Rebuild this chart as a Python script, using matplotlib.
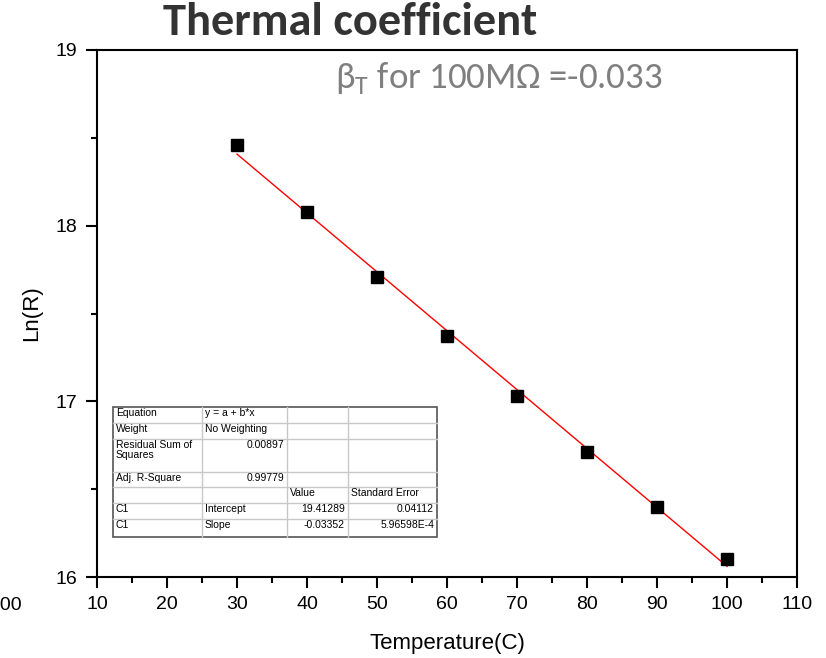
import numpy as np
import matplotlib.pyplot as plt
from matplotlib.ticker import MultipleLocator
from matplotlib.patches import Rectangle

# data
temperatura = [30, 40, 50, 60, 70, 80, 90, 100]
ln_r = [18.46, 18.08, 17.71, 17.37, 17.03, 16.71, 16.40, 16.10]

# linear fit from the Origin table
intercepto = 19.41289
inclinacao = -0.03352

# table text
linhas_tabela = [
    ["Equation", "y = a + b*x", "", ""],
    ["Weight", "No Weighting", "", ""],
    ["Residual Sum of\nSquares", "0.00897", "", ""],
    ["Adj. R-Square", "0.99779", "", ""],
    ["", "", "Value", "Standard Error"],
    ["C1", "Intercept", "19.41289", "0.04112"],
    ["C1", "Slope", "-0.03352", "5.96598E-4"],
]
# which cells are right aligned (numbers)
alinhar_dir = [
    [0, 0, 0, 0],
    [0, 0, 0, 0],
    [0, 1, 0, 0],
    [0, 1, 0, 0],
    [0, 0, 0, 0],
    [0, 0, 1, 1],
    [0, 0, 1, 1],
]

plt.rcParams['font.family'] = ['Liberation Sans', 'DejaVu Sans']

fig = plt.figure(figsize=(8.26, 6.58), dpi=100)
ax = fig.add_axes([97/826, 1 - 577/658, 700/826, 527/658])

x_fit = np.array([temperatura[0], temperatura[-1]])
ax.plot(x_fit, intercepto + inclinacao * x_fit, color='red', lw=1.0, zorder=2)
ax.plot(temperatura, ln_r, 's', color='black', markersize=8, zorder=3)

ax.set_xlim(10, 110)
ax.set_ylim(16, 19)
ax.xaxis.set_major_locator(MultipleLocator(10))
ax.xaxis.set_minor_locator(MultipleLocator(5))
ax.yaxis.set_major_locator(MultipleLocator(1))
ax.yaxis.set_minor_locator(MultipleLocator(0.5))
ax.tick_params(which='major', direction='out', length=8, width=1.5, labelsize=14, pad=6)
ax.tick_params(which='minor', direction='out', length=4, width=1.5)
for s in ax.spines.values():
    s.set_linewidth(1.5)

ax.set_xlabel('Temperature(C)', fontsize=16, labelpad=14)
ax.set_ylabel('Ln(R)', fontsize=16, labelpad=10)

# cut-off label at the left edge
fig.text(22/826, 1 - 606/658, '100', fontsize=14, ha='right', va='center')

fig.text(350/826, 1 - 35/658, 'Thermal coefficient', fontsize=33.5, fontweight='bold',
         color='#333333', family=['Carlito', 'Lato', 'DejaVu Sans'], ha='center', va='baseline')
fig.text(335/826, 1 - 89/658, 'β$_{\\mathregular{T}}$ for 100MΩ =-0.033', fontsize=26.5,
         color='#7f7f7f', family=['Carlito', 'Lato', 'DejaVu Sans'], ha='left', va='baseline')

# fit table (pixel coords -> figure coords)
col_x = [113, 202, 287, 348, 437]
row_y = [407, 423, 439, 472, 487, 503, 519, 537]
W, H = 826, 658
for i in range(1, 4):
    fig.add_artist(plt.Line2D([col_x[i]/W]*2, [1 - row_y[0]/H, 1 - row_y[-1]/H],
                              color='#c8c8c8', lw=1, transform=fig.transFigure))
for j in range(1, 7):
    fig.add_artist(plt.Line2D([col_x[0]/W, col_x[-1]/W], [1 - row_y[j]/H]*2,
                              color='#c8c8c8', lw=1, transform=fig.transFigure))
fig.add_artist(Rectangle((col_x[0]/W, 1 - row_y[-1]/H), (col_x[-1]-col_x[0])/W,
                         (row_y[-1]-row_y[0])/H, fill=False, edgecolor='#555555',
                         lw=1.2, transform=fig.transFigure))
for r, linha in enumerate(linhas_tabela):
    for c, txt in enumerate(linha):
        if not txt:
            continue
        topo = 1 - (row_y[r] + 1)/H
        if alinhar_dir[r][c]:
            fig.text((col_x[c+1] - 3)/W, topo, txt, fontsize=7.5, ha='right', va='top', linespacing=1.0)
        else:
            fig.text((col_x[c] + 3)/W, topo, txt, fontsize=7.5, ha='left', va='top', linespacing=1.0)

fig.savefig('out.png', dpi=100)
